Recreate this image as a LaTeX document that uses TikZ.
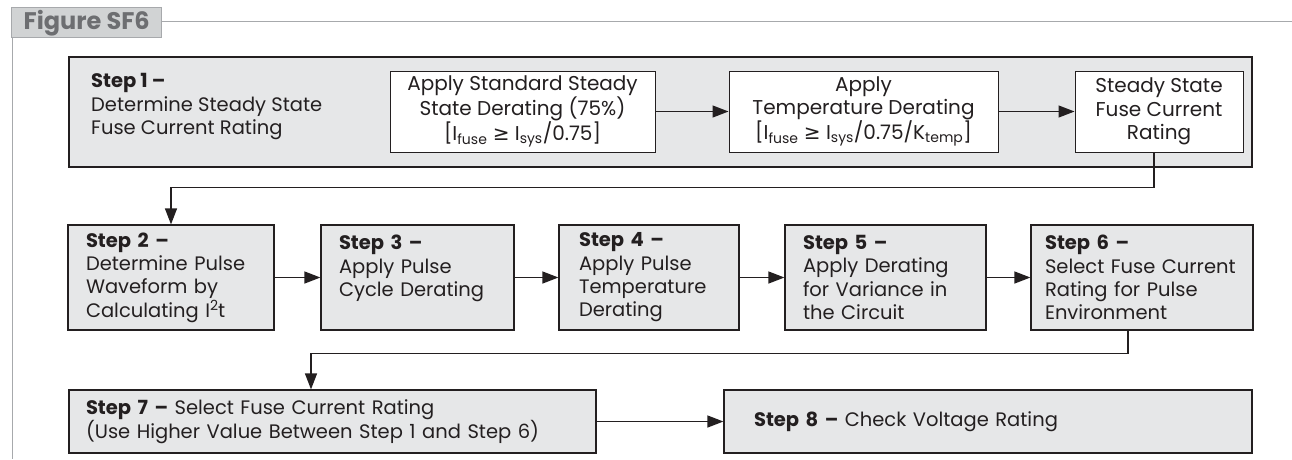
\documentclass[tikz,border=0pt]{standalone}
\usepackage{fontspec}
\setmainfont{Poppins}
\newfontfamily\symfont{DejaVu Sans}
\usepackage{tikz}
\usetikzlibrary{arrows.meta,positioning}

\definecolor{ink}{HTML}{231F20}
\definecolor{boxgray}{HTML}{E6E7E8}
\definecolor{tabgray}{HTML}{D1D3D4}
\definecolor{framegray}{HTML}{A7A9AC}
\definecolor{titlegray}{HTML}{6D6E71}

\begin{document}
\begin{tikzpicture}[x=1pt, y=-1pt]
%\draw[very thin, color = gray](0, 0) grid (1292, 459);
\useasboundingbox (0, 0) rectangle (1292, 459);
\tikzstyle{bigbox} = [draw = ink, fill = boxgray, line width = 1.2pt, rectangle,
  minimum width = 1183pt, minimum height = 110pt];
\tikzstyle{subbox} = [draw = ink, fill = white, line width = 1pt, rectangle,
  align = center, minimum height = 81pt, inner sep = 0pt, text = ink,
  font = \fontsize{20}{23.3}\selectfont];
\tikzstyle{stepbox} = [draw = ink, fill = boxgray, line width = 1.2pt, rectangle,
  align = left, inner xsep = 18pt, inner ysep = 0pt, minimum height = 105pt,
  text = ink, font = \fontsize{19.5}{23.3}\selectfont];
\tikzstyle{widebox} = [stepbox, minimum height = 63pt];
\tikzstyle{line} = [draw = ink, line width = 1.3pt, -{Triangle[length = 16pt, width = 12pt]}]

% frame and title tab
\draw[framegray, line width = 1pt] (161.7, 21.7) -- (1292, 21.7);
\draw[framegray, line width = 1pt] (12, 37.7) -- (12, 459);
\node [draw = framegray, fill = tabgray, line width = 1pt, minimum width = 150pt,
  minimum height = 30pt, inner sep = 0pt, text = titlegray,
  font = \fontsize{24}{24}\selectfont\bfseries] at (86.7, 22.7) (figtab) {Figure SF6};

% step 1
\node [bigbox] at (660.5, 112) (step1) {};
\node [anchor = north west, align = left, inner sep = 0pt, text = ink,
  font = \fontsize{19.5}{23.3}\selectfont] at (91, 73.5) (s1label)
  {\textbf{Step 1 –}\\Determine Steady State\\Fuse Current Rating};
\node [subbox, minimum width = 265pt] at (522.5, 111.5) (stdderate)
  {Apply Standard Steady\\State Derating (75\%)\\{[}I\textsubscript{fuse} {\symfont ≥} I\textsubscript{sys}/0.75]};
\node [subbox, minimum width = 269pt] at (863.5, 111.5) (tempderate)
  {Apply\\Temperature Derating\\{[}I\textsubscript{fuse} {\symfont ≥} I\textsubscript{sys}/0.75/K\textsubscript{temp}]};
\node [subbox, minimum width = 168pt] at (1159, 111.5) (ssrate)
  {Steady State\\Fuse Current\\Rating};

% steps 2 to 6
\node [stepbox, text width = 170pt] at (171, 277.5) (step2)
  {\textbf{Step 2 –}\\Determine Pulse\\Waveform by\\Calculating I\raisebox{0.32em}{\fontsize{14}{14}\selectfont 2}t};
\node [stepbox, text width = 157pt] at (417.5, 277.5) (step3)
  {\textbf{Step 3 –}\\Apply Pulse\\Cycle Derating\\~};
\node [stepbox, text width = 140pt, inner xsep = 20pt] at (649, 277.5) (step4)
  {\textbf{Step 4 –}\\Apply Pulse\\Temperature\\Derating};
\node [stepbox, text width = 165pt] at (885.5, 277.5) (step5)
  {\textbf{Step 5 –}\\Apply Derating\\for Variance in\\the Circuit};
\node [stepbox, text width = 194pt, inner xsep = 14pt] at (1142, 277.5) (step6)
  {\textbf{Step 6 –}\\Select Fuse Current\\Rating for Pulse\\Environment};

% steps 7 and 8
\node [widebox, text width = 493pt, inner xsep = 17pt] at (332.5, 421.5) (step7)
  {\textbf{Step 7 –} Select Fuse Current Rating\\(Use Higher Value Between Step 1 and Step 6)};
\node [widebox, text width = 468pt, inner xsep = 30pt] at (988, 421.5) (step8)
  {\textbf{Step 8 –} Check Voltage Rating};

\path [line] (stdderate) -- (tempderate);
\path [line] (tempderate) -- (ssrate);
\path [line] ([xshift = -5pt]ssrate.south) -- ++(0, 35) -| (step2.north);
\path [line] (step2) -- (step3);
\path [line] (step3) -- (step4);
\path [line] (step4) -- (step5);
\path [line] (step5) -- (step6);
\path [line] ([xshift = -14pt]step6.south) -- ++(0, 23) -| ([xshift = -21.5pt]step7.north);
\path [line] (step7) -- (step8);
\end{tikzpicture}
\end{document}
